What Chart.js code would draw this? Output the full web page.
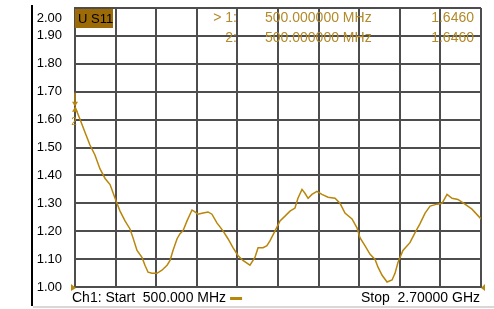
<!DOCTYPE html>
<html>
<head>
<meta charset="utf-8">
<script src="https://cdn.jsdelivr.net/npm/chart.js@4/dist/chart.umd.min.js"></script>
<style>
  body { margin: 0; background: #fff; }
  #graph { display: block; }
</style>
</head>
<body>
<canvas id="graph" width="494" height="309"></canvas>
<script>
// trace: frequency (MHz) vs S11 magnitude
const freqMHz = [500, 527, 554, 581, 608, 635, 663, 690, 717, 744, 771, 798, 814, 836, 863, 879, 896, 917, 944, 971,
    999, 1015, 1031, 1053, 1069, 1085, 1107, 1134, 1150, 1166, 1194, 1221, 1242, 1269, 1302, 1329, 1356, 1383, 1410, 1448,
    1475, 1492, 1519, 1540, 1557, 1584, 1611, 1638, 1665, 1692, 1708, 1730, 1746, 1763, 1784, 1811, 1838, 1871, 1909, 1936,
    1963, 2001, 2028, 2044, 2071, 2099, 2126, 2142, 2164, 2191, 2218, 2234, 2250, 2277, 2315, 2342, 2369, 2397, 2424, 2462,
    2489, 2516, 2543, 2575, 2613, 2651, 2700];
const s11 = [1.646, 1.601, 1.555, 1.509, 1.473, 1.424, 1.389, 1.367, 1.318, 1.272, 1.237, 1.208, 1.177, 1.131, 1.106, 1.078, 1.053, 1.049, 1.049, 1.060,
    1.078, 1.095, 1.131, 1.173, 1.191, 1.201, 1.237, 1.276, 1.269, 1.261, 1.265, 1.269, 1.261, 1.230, 1.201, 1.173, 1.141, 1.113, 1.095, 1.078,
    1.106, 1.141, 1.141, 1.148, 1.166, 1.201, 1.237, 1.254, 1.272, 1.283, 1.318, 1.350, 1.336, 1.318, 1.332, 1.343, 1.332, 1.322, 1.318, 1.300,
    1.265, 1.244, 1.212, 1.177, 1.148, 1.117, 1.099, 1.071, 1.042, 1.018, 1.025, 1.049, 1.088, 1.131, 1.159, 1.194, 1.226, 1.265, 1.290, 1.297,
    1.300, 1.332, 1.318, 1.314, 1.297, 1.279, 1.244];

const yTicks = [1.0, 1.1, 1.2, 1.3, 1.4, 1.5, 1.6, 1.7, 1.8, 1.9, 2.0];
const markerRows = [
    { name: '> 1:', freq: '500.000000 MHz', value: '1.6460' },
    { name: '2:', freq: '500.000000 MHz', value: '1.6460' },
];
const startLabel = 'Ch1: Start  500.000 MHz';
const stopLabel = 'Stop  2.70000 GHz';

const TRACE = '#b8860b';
const TEXT = '#b38a2a';
const FONT = '"Liberation Sans", Arial, sans-serif';

// everything that is not the trace itself: frame, header, marker flags
const overlay = {
    id: 'overlay',
    afterDraw(chart) {
        const ctx = chart.ctx;
        const area = chart.chartArea;
        const yScale = chart.scales.y;
        ctx.save();

        // left black frame line + grey bottom line
        ctx.strokeStyle = '#000';
        ctx.lineWidth = 2;
        ctx.beginPath();
        ctx.moveTo(32, 5);
        ctx.lineTo(32, 306);
        ctx.stroke();
        ctx.strokeStyle = '#d8d8d8';
        ctx.beginPath();
        ctx.moveTo(33, 307);
        ctx.lineTo(494, 307);
        ctx.stroke();

        // top tick label sits lower than its grid line on the screen
        ctx.fillStyle = '#000';
        ctx.font = '13px ' + FONT;
        ctx.textAlign = 'right';
        ctx.textBaseline = 'middle';
        ctx.fillText('2.00', 62, 18);

        // trace name box
        ctx.fillStyle = '#9c6a06';
        ctx.fillRect(area.left, area.top + 1, 38, 19);
        ctx.fillStyle = '#000';
        ctx.textAlign = 'left';
        ctx.font = '13px ' + FONT;
        ctx.fillText('U S11', area.left + 3, area.top + 11);

        // marker table
        ctx.font = '14px ' + FONT;
        ctx.fillStyle = TEXT;
        markerRows.forEach((row, i) => {
            const y = 18 + i * 20;
            ctx.textAlign = 'right';
            ctx.fillText(row.name, 237, y);
            ctx.textAlign = 'left';
            ctx.fillText(row.freq, 265, y);
            ctx.textAlign = 'right';
            ctx.fillText(row.value, 474, y);
        });

        // marker flags at the first point
        const mx = chart.scales.x.getPixelForValue(freqMHz[0]);
        const my = yScale.getPixelForValue(s11[0]);
        ctx.fillStyle = TRACE;
        ctx.strokeStyle = TRACE;
        ctx.lineWidth = 1.5;
        ctx.beginPath();
        ctx.moveTo(mx, my - 14);
        ctx.lineTo(mx, my - 5);
        ctx.stroke();
        ctx.beginPath();
        ctx.moveTo(mx - 3, my - 5);
        ctx.lineTo(mx + 3, my - 5);
        ctx.lineTo(mx, my);
        ctx.closePath();
        ctx.fill();
        ctx.beginPath();
        ctx.moveTo(mx - 3, my + 5);
        ctx.lineTo(mx + 3, my + 5);
        ctx.lineTo(mx, my);
        ctx.closePath();
        ctx.fill();
        ctx.font = '10px ' + FONT;
        ctx.textAlign = 'center';
        ctx.fillText('2', mx - 1, my + 15);

        // reference level arrows
        ctx.beginPath();
        ctx.moveTo(area.left - 4, area.bottom - 3);
        ctx.lineTo(area.left + 1, area.bottom + 1);
        ctx.lineTo(area.left - 4, area.bottom + 4);
        ctx.closePath();
        ctx.fill();
        ctx.beginPath();
        ctx.moveTo(area.right + 4, area.bottom - 3);
        ctx.lineTo(area.right, area.bottom + 1);
        ctx.lineTo(area.right + 4, area.bottom + 4);
        ctx.closePath();
        ctx.fill();

        // footer
        ctx.fillStyle = '#000';
        ctx.font = '14px ' + FONT;
        ctx.textAlign = 'left';
        ctx.fillText(startLabel, 72, 298);
        const w = ctx.measureText(startLabel).width;
        ctx.fillStyle = TRACE;
        ctx.fillRect(72 + w + 4, 297, 12, 3);
        ctx.fillStyle = '#000';
        ctx.textAlign = 'right';
        ctx.fillText(stopLabel, 480, 298);

        ctx.restore();
    }
};

const config = {
    type: 'line',
    data: {
        datasets: [{
            data: freqMHz.map((f, i) => ({ x: f, y: s11[i] })),
            borderColor: TRACE,
            borderWidth: 1.5,
            pointRadius: 0,
            tension: 0,
            fill: false,
        }]
    },
    options: {
        responsive: false,
        animation: false,
        events: [],
        layout: { padding: { left: 0, top: 8, right: 13, bottom: 22 } },
        scales: {
            x: {
                type: 'linear',
                min: 500,
                max: 2700,
                ticks: { display: false, stepSize: 220 },
                grid: { color: '#4d4d4d', lineWidth: 2, drawTicks: false },
                border: { color: '#4d4d4d', width: 2 },
            },
            y: {
                min: 1.0,
                max: 2.0,
                afterBuildTicks: (scale) => { scale.ticks = yTicks.map(v => ({ value: v })); },
                afterFit: (scale) => {
                    scale.width = 75;
                    scale.paddingTop = 0;
                    scale.paddingBottom = 0;
                },
                ticks: {
                    padding: 13,
                    color: '#000',
                    font: { family: FONT, size: 13 },
                    callback: (v) => (v >= 1.999 ? '' : Number(v).toFixed(2)),
                },
                grid: { color: '#4d4d4d', lineWidth: 2, drawTicks: false },
                border: { color: '#4d4d4d', width: 2 },
            }
        },
        plugins: {
            legend: { display: false },
            tooltip: { enabled: false },
        }
    },
    plugins: [overlay],
};

new Chart(document.getElementById('graph'), config);
</script>
</body>
</html>
